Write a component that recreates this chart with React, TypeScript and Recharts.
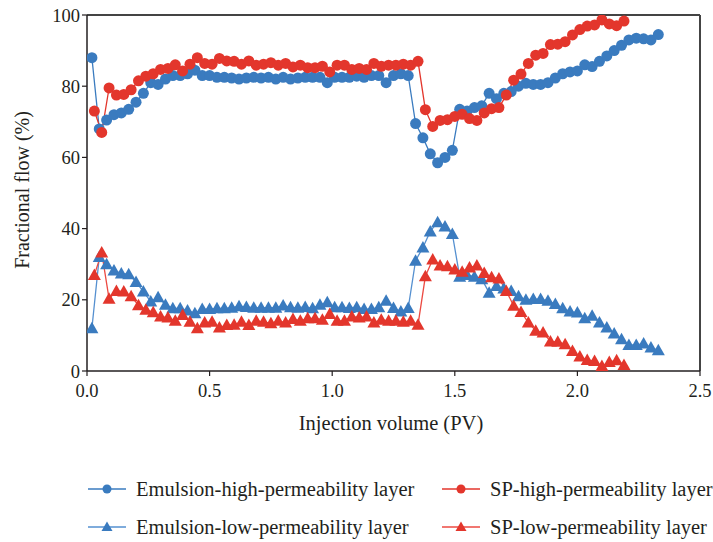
import React from 'react';
import { LineChart, Line, XAxis, YAxis, ReferenceLine } from 'recharts';

// x positions (PV) of the emulsion flood samples
const emulsionX = [
  0.02, 0.05, 0.08, 0.11, 0.14, 0.17, 0.2, 0.23, 0.26, 0.29,
  0.32, 0.35, 0.38, 0.41, 0.44, 0.47, 0.5, 0.53, 0.56, 0.59,
  0.62, 0.65, 0.68, 0.71, 0.74, 0.77, 0.8, 0.83, 0.86, 0.89,
  0.92, 0.95, 0.98, 1.01, 1.04, 1.07, 1.1, 1.13, 1.16, 1.19,
  1.22, 1.25, 1.28, 1.31, 1.34, 1.37, 1.4, 1.43, 1.46, 1.49,
  1.52, 1.55, 1.58, 1.61, 1.64, 1.67, 1.7, 1.73, 1.76, 1.79,
  1.82, 1.85, 1.88, 1.91, 1.94, 1.97, 2.0, 2.03, 2.06, 2.09,
  2.12, 2.15, 2.18, 2.21, 2.24, 2.27, 2.3, 2.33,
];

const emulsionHigh = [
  88, 68, 70.5, 72, 72.5, 73.5, 75.5, 78, 81, 80.5,
  82, 83, 83, 83.5, 84.5, 83, 83, 82.5, 82.5, 82.3,
  82, 82.3, 82.5, 82.3, 82.5, 82, 82.5, 82, 82.3, 82.5,
  82.5, 82.5, 81, 82.5, 82.5, 82.5, 82.8, 82.5, 83, 83,
  81, 83, 83.5, 83, 69.5, 65.5, 61, 58.5, 60, 62,
  73.5, 73, 74, 74.5, 78, 76.5, 78, 78.5, 80, 80.8,
  80.5, 80.5, 81, 82.3, 83.5, 84, 84.3, 86, 85.5, 87,
  88.5, 90, 91.5, 93, 93.5, 93.3, 93, 94.5,
];

const emulsionLow = [
  12, 32, 30, 28.2, 27.4, 27.2, 25, 22.3, 19.5, 20.7,
  18.6, 17.6, 17.6, 17, 16.2, 17.4, 17.4, 17.6, 17.6, 17.8,
  18.2, 18, 17.8, 17.8, 17.8, 17.8, 18.4, 17.9, 17.8, 18,
  17.6, 18.6, 19.3, 17.9, 17.9, 17.7, 17.9, 17.4, 17.4, 17.9,
  19.7, 17.7, 16.7, 17.7, 31, 34.7, 39.2, 41.8, 40.6, 38.5,
  26.5, 27, 26.5, 25.8, 22, 23.9, 23.2, 22.5, 21, 20,
  20.2, 20.2, 19.7, 18.8, 17.6, 16.7, 16.4, 14.8, 15.5, 13.6,
  12.2, 10.5, 8.9, 7.3, 7.3, 7.7, 6.6, 5.8,
];

// x positions (PV) of the SP flood samples
const spX = [
  0.03, 0.06, 0.09, 0.12, 0.15, 0.18, 0.21, 0.24, 0.27, 0.3,
  0.33, 0.36, 0.39, 0.42, 0.45, 0.48, 0.51, 0.54, 0.57, 0.6,
  0.63, 0.66, 0.69, 0.72, 0.75, 0.78, 0.81, 0.84, 0.87, 0.9,
  0.93, 0.96, 0.99, 1.02, 1.05, 1.08, 1.11, 1.14, 1.17, 1.2,
  1.23, 1.26, 1.29, 1.32, 1.35, 1.38, 1.41, 1.44, 1.47, 1.5,
  1.53, 1.56, 1.59, 1.62, 1.65, 1.68, 1.71, 1.74, 1.77, 1.8,
  1.83, 1.86, 1.89, 1.92, 1.95, 1.98, 2.01, 2.04, 2.07, 2.1,
  2.13, 2.16, 2.19,
];

const spHigh = [
  73, 67, 79.5, 77.5, 77.7, 79, 81.5, 82.8, 83.5, 84.7,
  85, 86, 84.3, 86.2, 88, 86.4, 86.2, 87.8, 87.1, 87,
  86.2, 87.1, 85.9, 86.2, 86.6, 85.9, 86.4, 85.4, 85.9, 85.2,
  85.2, 85.6, 84, 85.9, 85.9, 84.7, 85, 84.7, 86.4, 85.6,
  85.9, 85.9, 86.2, 85.9, 87, 73.4, 68.7, 70.4, 70.6, 71.5,
  72.1, 70.9, 70.4, 72.5, 73.7, 74, 77.5, 81.7, 83.4, 86.4,
  88.7, 89.2, 91.7, 91.8, 92.5, 94.4, 95.9, 96.9, 97.2, 98.6,
  97.5, 97, 98.3,
];

const spLow = [
  27, 33.3, 20.3, 22.5, 22.3, 21, 18.5, 17.2, 16.5, 15.3,
  15, 14.1, 15.7, 13.8, 12, 13.6, 13.8, 12.2, 12.9, 13,
  13.8, 12.9, 14.1, 13.8, 13.4, 14.1, 13.6, 14.6, 14.1, 14.8,
  14.8, 14.4, 16, 14.1, 14.1, 15.3, 15, 15.3, 13.6, 14.4,
  14.1, 14.1, 13.8, 14.1, 13, 26.6, 31.3, 29.6, 29.4, 28.5,
  27.9, 29.1, 29.6, 27.5, 26.3, 26, 22.5, 18.3, 16.6, 13.6,
  11.3, 10.8, 8.3, 8.2, 7.5, 5.6, 4.1, 3.1, 2.8, 1.4,
  2.5, 3, 1.7,
];

const xTicks = [0, 0.5, 1.0, 1.5, 2.0, 2.5];
const yTicks = [0, 20, 40, 60, 80, 100];

const BLUE = '#3a7bbf';
const BLUE_LIGHT = '#5590d0';
const RED = '#e3362c';
const RED_LIGHT = '#ec4a42';
const INK = '#231f20';
const FONT = '"Liberation Serif", "Times New Roman", serif';

const toPoints = (xs: number[], ys: number[]) => xs.map((x, i) => ({ x, y: ys[i] }));

const triangleDot = (color: string) => (props: any) => {
  const { cx, cy, index } = props;
  if (cx == null || cy == null) return <g key={index} />;
  return (
    <path
      key={index}
      d={`M${cx},${cy - 6.5} L${cx + 6.5},${cy + 5} L${cx - 6.5},${cy + 5} Z`}
      fill={color}
    />
  );
};

const legendItems = [
  { label: 'Emulsion-high-permeability layer', color: BLUE, line: BLUE, shape: 'circle', left: 88, top: 489 },
  { label: 'SP-high-permeability layer', color: RED, line: RED, shape: 'circle', left: 442, top: 489 },
  { label: 'Emulsion-low-permeability layer', color: BLUE, line: BLUE_LIGHT, shape: 'triangle', left: 88, top: 527 },
  { label: 'SP-low-permeability layer', color: RED, line: RED_LIGHT, shape: 'triangle', left: 442, top: 527 },
];

export default function App() {
  return (
    <div
      style={{
        position: 'absolute',
        left: 0,
        top: 0,
        width: 713,
        height: 542,
        background: '#fff',
        fontFamily: FONT,
        overflow: 'hidden',
      }}
    >
      <LineChart width={713} height={542} margin={{ top: 15, right: 13, bottom: 111, left: 0 }}>
        <XAxis
          type="number"
          dataKey="x"
          domain={[0, 2.5]}
          ticks={xTicks}
          tickFormatter={(v: number) => v.toFixed(1)}
          height={60}
          tickSize={5}
          tickMargin={8}
          axisLine={{ stroke: INK, strokeWidth: 1.5 }}
          tickLine={{ stroke: INK, strokeWidth: 1.2 }}
          tick={{ fill: INK, fontSize: 18.5, fontFamily: FONT }}
          allowDataOverflow
          label={{
            content: () => (
              <text x={391} y={430} textAnchor="middle" fill={INK} fontSize={20.5} fontFamily={FONT}>
                Injection volume (PV)
              </text>
            ),
          }}
        />
        <YAxis
          type="number"
          dataKey="y"
          domain={[0, 100]}
          ticks={yTicks}
          width={87}
          tickSize={5}
          axisLine={{ stroke: INK, strokeWidth: 1.5 }}
          tickLine={{ stroke: INK, strokeWidth: 1.2 }}
          tick={{ fill: INK, fontSize: 18.5, fontFamily: FONT }}
          allowDataOverflow
          label={{
            content: () => (
              <text
                x={22}
                y={190}
                transform="rotate(-90 22 190)"
                textAnchor="middle"
                dominantBaseline="central"
                fill={INK}
                fontSize={20}
                fontFamily={FONT}
              >
                Fractional flow (%)
              </text>
            ),
          }}
        />
        <ReferenceLine y={100} stroke="#444" strokeWidth={2} ifOverflow="visible" />
        <ReferenceLine x={2.5} stroke="#444" strokeWidth={2} ifOverflow="visible" />

        <Line
          data={toPoints(emulsionX, emulsionHigh)}
          dataKey="y"
          type="linear"
          stroke={BLUE}
          strokeWidth={1.3}
          dot={{ r: 5.5, fill: BLUE, stroke: BLUE, strokeWidth: 0 }}
          isAnimationActive={false}
        />
        <Line
          data={toPoints(emulsionX, emulsionLow)}
          dataKey="y"
          type="linear"
          stroke={BLUE_LIGHT}
          strokeWidth={1.3}
          dot={triangleDot(BLUE)}
          isAnimationActive={false}
        />
        <Line
          data={toPoints(spX, spHigh)}
          dataKey="y"
          type="linear"
          stroke={RED}
          strokeWidth={1.3}
          dot={{ r: 5.5, fill: RED, stroke: RED, strokeWidth: 0 }}
          isAnimationActive={false}
        />
        <Line
          data={toPoints(spX, spLow)}
          dataKey="y"
          type="linear"
          stroke={RED_LIGHT}
          strokeWidth={1.3}
          dot={triangleDot(RED)}
          isAnimationActive={false}
        />
      </LineChart>

      {/* Legend */}
      {legendItems.map(item => (
        <div
          key={item.label}
          style={{
            position: 'absolute',
            left: item.left,
            top: item.top - 14,
            height: 28,
            display: 'flex',
            alignItems: 'center',
            whiteSpace: 'nowrap',
            color: INK,
            fontSize: 20.5,
          }}
        >
          <svg width={38} height={28} style={{ marginRight: 10 }}>
            <line x1={0} y1={14} x2={38} y2={14} stroke={item.line} strokeWidth={1.5} />
            {item.shape === 'circle' ? (
              <circle cx={19} cy={14} r={4.5} fill={item.color} />
            ) : (
              <path d="M19,8.5 L24.5,18 L13.5,18 Z" fill={item.color} />
            )}
          </svg>
          <span>{item.label}</span>
        </div>
      ))}
    </div>
  );
}
